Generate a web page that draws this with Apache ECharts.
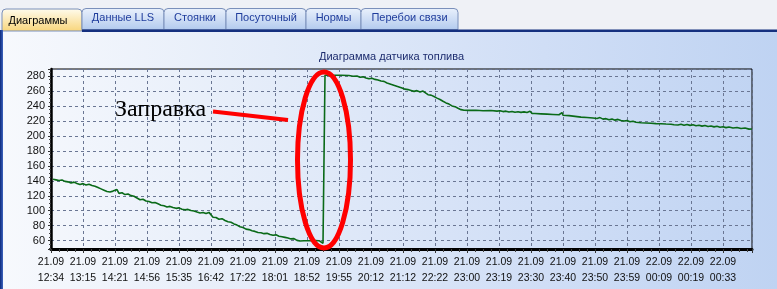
<!DOCTYPE html>
<html><head><meta charset="utf-8">
<script src="https://cdn.jsdelivr.net/npm/echarts@6/dist/echarts.min.js"></script>
<style>
html,body{margin:0;padding:0;overflow:hidden;background:#eef0f5;}
#c{width:777px;height:289px;background:linear-gradient(to right,#f7f9fd 0%,#e4ecf9 35%,#d0def6 70%,#bfd3f2 100%);}
</style></head>
<body><div id="c"></div>
<script>
// ---- data ----
const tabNames = ['Диаграммы','Данные LLS','Стоянки','Посуточный','Нормы','Перебои связи'];
const chartTitle = 'Диаграмма датчика топлива';
const annotationText = 'Заправка';
const tickDates = ['21.09','21.09','21.09','21.09','21.09','21.09','21.09','21.09','21.09','21.09','21.09',
                   '21.09','21.09','21.09','21.09','21.09','21.09','21.09','21.09','22.09','22.09','22.09'];
const tickTimes = ['12:34','13:15','14:21','14:56','15:35','16:42','17:22','18:01','18:52','19:55','20:12',
                   '21:12','22:22','23:00','23:19','23:30','23:40','23:50','23:59','00:09','00:19','00:33'];
// sample number (32 samples per labelled tick) and fuel level
const sampleNo = [2,5,8,11,14,17,20,23,26,29,32,35,38,41,44,47,50,53,56,59,62,64,66,68,71,74,77,80,83,86,89,92,95,98,
  101,104,107,110,113,116,119,122,125,128,131,134,137,140,143,146,149,152,155,158,160,162,165,168,171,174,177,180,
  183,186,189,192,195,198,201,204,207,210,213,216,219,222,225,228,231,234,237,240,243,246,249,251,253,256,260,264,
  268,270,272,274,274,280,290,298,302,306,309,312,315,318,321,324,327,330,333,336,339,342,345,348,351,354,357,360,
  363,366,369,372,374,377,380,383,386,389,392,395,398,401,404,407,410,411,413,418,425,432,440,446,449,452,455,458,
  461,464,467,470,473,476,479,481,484,490,496,502,508,510,511,512,518,524,530,536,542,546,549,552,555,558,561,564,
  567,570,573,576,579,582,585,590,595,600,605,610,615,620,623,625,627,630,633,636,639,642,645,648,651,654,657,660,
  663,666,669,672,675,678,682,686,690,694,698,701];
const fuelLevel = [142,141.2,140.4,141,139.2,138.6,137,138.2,136.4,135,136.2,134.4,135.4,133.6,132.8,131,129.2,127.4,
  125.6,125,126.2,126.8,128.2,123.2,124,121.6,122.4,120.2,119.4,117,114.6,115.4,113,112.4,110.6,111,109.2,107.4,106.6,
  105,105.8,104.4,103.2,103.8,102,101.2,101.8,100.4,99.6,98.2,97,97.6,96.2,97.8,99.6,91.4,91,88.6,89.4,87,85.2,84.6,
  82.4,80.8,78.6,77.6,75.4,74.8,73.2,72.4,71,70.6,69.4,69.8,68.2,67.2,67.8,66,65.2,64.4,63.6,62.4,62.8,60.4,59.6,58.4,
  60,60,60,60.2,60,58,56.6,58,281,281,281,280.6,279.6,279.8,278.2,278.8,277.4,276.2,277,275.4,274.6,273.2,272.8,270.6,
  269.4,268,266.6,265.2,263.8,262.4,261.8,260.6,259.4,260.4,258.6,259.8,258,255,254.4,252.6,250.4,248.6,246.2,244,
  242.4,240,239,236.8,235,237.6,234.2,234,234.2,233.6,233.8,233,233.6,232.4,233,231.8,232.6,231.6,232.2,231.4,232,
  231.2,232.8,230,229.8,229.4,229,228.6,228.2,228,231,227.6,227,226,225,224.6,223.8,223.2,224.4,222.4,223,221.6,
  222.4,221,222,220.6,219.8,220.4,218.8,219.6,218.2,217.6,217.2,216.8,216.4,216.2,215.8,215.6,214.8,217,214.6,215.4,
  214.2,215.2,214,214.8,213.6,214.2,213,213.8,212.6,213.2,212,212.8,211.6,212.2,211,211.8,210.6,211.2,209.8,210.4,
  209,209.2];

// ---- layout ----
const tabLayout = [[2,82],[82,164],[164,226],[226,306],[306,361],[361,458]];
const SAMPLES_PER_TICK = 32;

const data = sampleNo.map((s,i)=>[s,fuelLevel[i]]);
const FONT = '"Liberation Sans", Arial, sans-serif';

const graphics = [];
graphics.push({type:'rect', z:-5, shape:{x:0,y:0,width:777,height:30}, style:{fill:'#eff1f6'}, silent:true});
tabLayout.forEach((t,i)=>{
  const active = i===0;
  graphics.push({type:'rect', z:-4,
    shape:{x:t[0],y:active?9:8.5,width:t[1]-t[0],height:active?22:21,r:[4,4,0,0]},
    style:{fill:{type:'linear',x:0,y:0,x2:0,y2:1,colorStops:active?
      [{offset:0,color:'#fffcee'},{offset:1,color:'#f8d57a'}]:
      [{offset:0,color:'#eaf1fc'},{offset:1,color:'#b2caee'}]},
      stroke:'#7b90bb',lineWidth:1}});
  graphics.push({type:'text', z:-3,
    style:{text:tabNames[i], x:active?38:(t[0]+t[1])/2, y:active?21:17.5,
      textAlign:'center', textVerticalAlign:'middle', verticalAlign:'middle',
      font:'11px '+FONT, fill:active?'#000':'#1f3c9c'}});
});
graphics.push({type:'rect', z:-2, shape:{x:82,y:29.5,width:695,height:2.5}, style:{fill:'#15307f'}});
graphics.push({type:'rect', z:-2, shape:{x:0,y:30,width:3,height:259},
  style:{fill:{type:'linear',x:0,y:0,x2:1,y2:0,colorStops:[{offset:0,color:'#0d2a7c'},{offset:1,color:'#3d64bf'}]}}});
graphics.push({type:'text', z:5, style:{text:chartTitle, x:391.5, y:57, textAlign:'center',
  textVerticalAlign:'middle', verticalAlign:'middle', font:'11px '+FONT, fill:'#1d2c6e'}});
graphics.push({type:'text', z:20, style:{text:annotationText, x:115, y:110, textAlign:'left',
  textVerticalAlign:'middle', verticalAlign:'middle', font:'24px "Liberation Serif", "Times New Roman", serif', fill:'#000'}});
graphics.push({type:'line', z:20, shape:{x1:213,y1:111.5,x2:288,y2:120}, style:{stroke:'#ff0000',lineWidth:4}});
graphics.push({type:'ellipse', z:20, shape:{cx:324,cy:160,rx:26.5,ry:88}, style:{fill:null,stroke:'#ff0000',lineWidth:5}});

const chart = echarts.init(document.getElementById('c'), null, {renderer:'canvas'});
chart.setOption({
  animation:false,
  backgroundColor:'transparent',
  grid:{left:51, top:69, right:25, bottom:40, show:true, borderColor:'#000', borderWidth:1, backgroundColor:'transparent'},
  xAxis:{type:'value', min:0, max:701, interval:SAMPLES_PER_TICK,
    axisLine:{show:true, onZero:false, lineStyle:{color:'#000', width:3}},
    axisTick:{show:true, length:4, lineStyle:{color:'#333'}},
    minorTick:{show:true, splitNumber:4, length:3, lineStyle:{color:'#444'}},
    splitLine:{show:true, lineStyle:{color:'#6a7693', type:[3,3], width:1}},
    axisLabel:{margin:5, fontSize:10.5, lineHeight:16, color:'#111', fontFamily:FONT, showMaxLabel:false,
      formatter:function(v){ const k=v/SAMPLES_PER_TICK; if(Math.abs(k-Math.round(k))>1e-6) return '';
        const i=Math.round(k); return i<tickTimes.length ? tickDates[i]+'\n'+tickTimes[i] : ''; }}},
  yAxis:{type:'value', min:48.9, max:289.3, splitNumber:12,
    axisLine:{show:true, lineStyle:{color:'#000', width:2.5}},
    axisTick:{show:true, length:3, lineStyle:{color:'#333'}},
    minorTick:{show:true, splitNumber:4, length:2, lineStyle:{color:'#444'}},
    splitLine:{show:true, lineStyle:{color:'#6a7693', type:[3,3], width:1}},
    axisLabel:{margin:6, fontSize:11, color:'#111', fontFamily:FONT, showMinLabel:false, showMaxLabel:false}},
  series:[{type:'line', data:data, showSymbol:false, symbol:'none', z:10,
    lineStyle:{color:'#0a6a18', width:1.6}}],
  graphic:graphics
});
</script>
</body></html>
